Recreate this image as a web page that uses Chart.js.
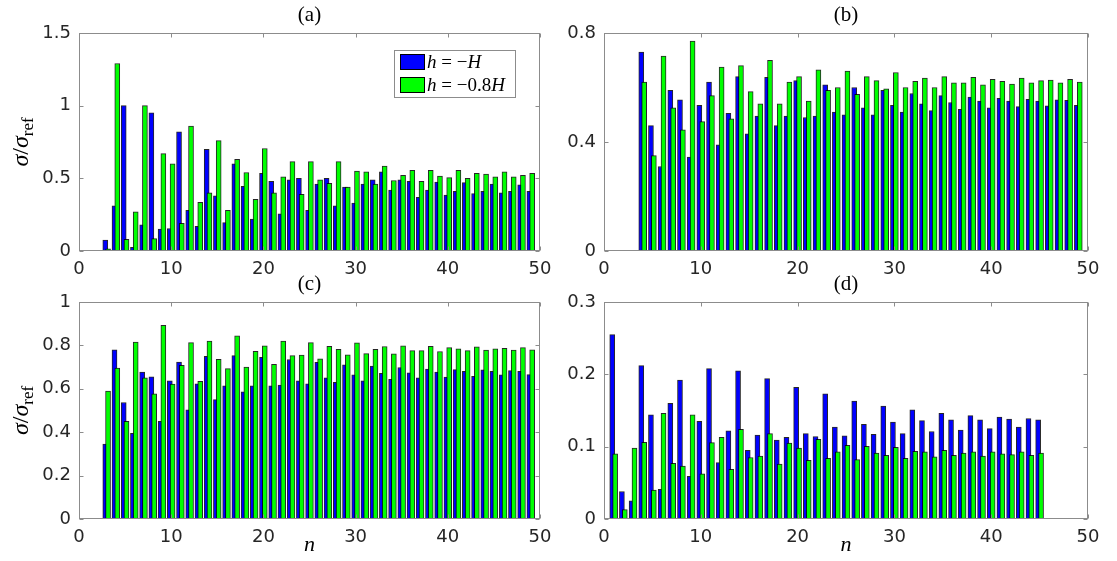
<!DOCTYPE html>
<html>
<head>
<meta charset="utf-8">
<script src="https://cdn.jsdelivr.net/npm/chart.js@4.4.0/dist/chart.umd.min.js"></script>
<style>
html,body{margin:0;padding:0;background:#fff;}
#wrap{position:relative;width:1117px;height:561px;overflow:hidden;background:#fff;}
#wrap canvas{position:absolute;left:0;top:0;}
</style>
</head>
<body>
<div id="wrap">
<canvas id="cA" width="1117" height="561"></canvas>
<canvas id="cB" width="1117" height="561"></canvas>
<canvas id="cC" width="1117" height="561"></canvas>
<canvas id="cD" width="1117" height="561"></canvas>
</div>
<script>
// ---------------- data ----------------
const seriesLabels = ['h = \u2212H', 'h = \u22120.8H'];
const xTicks = [0, 10, 20, 30, 40, 50];

const nA = [3,4,5,6,7,8,9,10,11,12,13,14,15,16,17,18,19,20,21,22,23,24,25,26,27,28,29,30,31,32,33,34,35,36,37,38,39,40,41,42,43,44,45,46,47,48,49];
const blueA = [0.075,0.31,1.0,0.025,0.18,0.95,0.15,0.155,0.82,0.28,0.17,0.70,0.38,0.195,0.60,0.445,0.22,0.535,0.48,0.255,0.49,0.50,0.28,0.46,0.50,0.31,0.44,0.33,0.46,0.49,0.545,0.42,0.49,0.48,0.37,0.42,0.475,0.385,0.41,0.47,0.395,0.41,0.46,0.40,0.41,0.455,0.41];
const greenA = [0.015,1.29,0.08,0.27,1.0,0.085,0.67,0.60,0.19,0.86,0.335,0.40,0.76,0.28,0.63,0.54,0.355,0.705,0.40,0.51,0.615,0.39,0.615,0.49,0.465,0.615,0.44,0.55,0.545,0.46,0.585,0.485,0.52,0.555,0.48,0.555,0.515,0.505,0.555,0.50,0.535,0.53,0.51,0.545,0.51,0.52,0.535];
const yTicksA = [0, 0.5, 1, 1.5];

const nB = [4,5,6,7,8,9,10,11,12,13,14,15,16,17,18,19,20,21,22,23,24,25,26,27,28,29,30,31,32,33,34,35,36,37,38,39,40,41,42,43,44,45,46,47,48,49];
const blueB = [0.73,0.46,0.31,0.59,0.555,0.345,0.535,0.62,0.39,0.505,0.64,0.43,0.495,0.637,0.46,0.495,0.625,0.49,0.495,0.61,0.51,0.50,0.60,0.525,0.50,0.59,0.535,0.51,0.578,0.54,0.515,0.57,0.545,0.52,0.565,0.55,0.525,0.56,0.55,0.53,0.557,0.55,0.533,0.555,0.553,0.535];
const greenB = [0.62,0.35,0.715,0.525,0.445,0.77,0.475,0.57,0.675,0.485,0.68,0.585,0.54,0.70,0.54,0.62,0.64,0.55,0.665,0.59,0.60,0.66,0.575,0.64,0.625,0.595,0.655,0.60,0.623,0.635,0.60,0.64,0.617,0.617,0.637,0.61,0.63,0.623,0.613,0.635,0.617,0.625,0.627,0.617,0.63,0.62];
const yTicksB = [0, 0.4, 0.8];

const nC = [3,4,5,6,7,8,9,10,11,12,13,14,15,16,17,18,19,20,21,22,23,24,25,26,27,28,29,30,31,32,33,34,35,36,37,38,39,40,41,42,43,44,45,46,47,48,49];
const blueC = [0.345,0.78,0.537,0.395,0.677,0.655,0.45,0.637,0.723,0.503,0.623,0.75,0.55,0.614,0.753,0.586,0.614,0.745,0.614,0.617,0.735,0.637,0.623,0.722,0.65,0.63,0.711,0.664,0.637,0.705,0.671,0.644,0.698,0.674,0.65,0.691,0.677,0.654,0.688,0.68,0.657,0.687,0.68,0.664,0.684,0.68,0.665];
const greenC = [0.59,0.695,0.45,0.815,0.65,0.577,0.893,0.622,0.708,0.813,0.634,0.82,0.736,0.693,0.844,0.70,0.773,0.798,0.713,0.82,0.753,0.755,0.813,0.738,0.796,0.782,0.756,0.812,0.762,0.782,0.795,0.761,0.798,0.776,0.776,0.796,0.772,0.79,0.784,0.776,0.793,0.779,0.784,0.787,0.779,0.79,0.78];
const yTicksC = [0, 0.2, 0.4, 0.6, 0.8, 1];

const nD = [1,2,3,4,5,6,7,8,9,10,11,12,13,14,15,16,17,18,19,20,21,22,23,24,25,26,27,28,29,30,31,32,33,34,35,36,37,38,39,40,41,42,43,44,45];
const blueD = [0.255,0.038,0.025,0.212,0.144,0.041,0.16,0.192,0.059,0.135,0.208,0.078,0.122,0.205,0.095,0.116,0.194,0.109,0.113,0.182,0.118,0.114,0.173,0.127,0.115,0.163,0.131,0.117,0.156,0.134,0.118,0.151,0.136,0.121,0.146,0.137,0.123,0.143,0.137,0.125,0.141,0.138,0.127,0.139,0.137];
const greenD = [0.09,0.013,0.098,0.106,0.040,0.146,0.077,0.073,0.144,0.0625,0.1056,0.113,0.0685,0.124,0.085,0.087,0.118,0.076,0.105,0.098,0.081,0.110,0.084,0.093,0.102,0.082,0.1005,0.091,0.088,0.099,0.084,0.0935,0.093,0.086,0.095,0.088,0.091,0.093,0.087,0.093,0.09,0.089,0.093,0.088,0.091];
const yTicksD = [0, 0.1, 0.2, 0.3];

// ---------------- style / layout ----------------
const W = 1117, H = 561;
const BLUE = '#0000ff', GREEN = '#00ff00';
const EDGE = 'rgba(0,0,0,0.85)';
const AXIS = '#8c8c8c';
const TXT = '#262626';
const SERIF = '"Liberation Serif", "DejaVu Serif", serif';
const GROUP_OFF = 0.15;   // half distance between the two bars of one group (x units)

Chart.defaults.font.family = '"DejaVu Sans", sans-serif';
Chart.defaults.font.size = 18;
Chart.defaults.color = TXT;

function drawSegs(ctx, segs, x, y, align) {
  let total = 0;
  segs.forEach(s => { ctx.font = s.font; s.w = ctx.measureText(s.t).width; total += s.w; });
  let cx = align === 'center' ? x - total / 2 : x;
  segs.forEach(s => {
    ctx.font = s.font;
    ctx.textAlign = 'left';
    ctx.textBaseline = 'alphabetic';
    ctx.fillText(s.t, cx, y + (s.dy || 0));
    cx += s.w;
  });
}

const decor = {
  id: 'decor',
  afterDraw(chart, args, o) {
    const ctx = chart.ctx;
    const a = chart.chartArea;
    const xs = chart.scales.x, ys = chart.scales.y;
    ctx.save();
    ctx.strokeStyle = AXIS;
    ctx.lineWidth = 1;
    const L = Math.round(a.left) + 0.5, R = Math.round(a.right) - 0.5;
    const T = Math.round(a.top) + 0.5, B = Math.round(a.bottom) - 0.5;
    ctx.strokeRect(L, T, R - L, B - T);
    ctx.beginPath();
    const tl = 4;
    xTicks.forEach(v => {
      const px = Math.round(xs.getPixelForValue(v)) + 0.5;
      ctx.moveTo(px, B); ctx.lineTo(px, B - tl);
      ctx.moveTo(px, T); ctx.lineTo(px, T + tl);
    });
    o.yTicks.forEach(v => {
      const py = Math.round(ys.getPixelForValue(v)) + 0.5;
      ctx.moveTo(L, py); ctx.lineTo(L + tl, py);
      ctx.moveTo(R, py); ctx.lineTo(R - tl, py);
    });
    ctx.stroke();
    ctx.fillStyle = '#000';
    const cx = (a.left + a.right) / 2;
    drawSegs(ctx, [{t: o.title, font: '21px ' + SERIF}], cx, a.top - 12, 'center');
    if (o.xlabel) {
      drawSegs(ctx, [{t: 'n', font: 'italic 22px ' + SERIF}], cx, 551, 'center');
    }
    if (o.ylabel) {
      ctx.save();
      ctx.translate(28, (a.top + a.bottom) / 2);
      ctx.rotate(-Math.PI / 2);
      drawSegs(ctx, [
        {t: '\u03c3', font: 'italic 24px ' + SERIF},
        {t: '/', font: '24px ' + SERIF},
        {t: '\u03c3', font: 'italic 24px ' + SERIF},
        {t: 'ref', font: '17px ' + SERIF, dy: 5}
      ], 0, 0, 'center');
      ctx.restore();
    }
    if (o.legend) {
      const bx = 394.5, by = 50.5, bw = 121, bh = 47;
      ctx.fillStyle = '#fff';
      ctx.fillRect(bx, by, bw, bh);
      ctx.strokeStyle = AXIS;
      ctx.strokeRect(bx, by, bw, bh);
      const rows = [
        {c: BLUE, y: 62, segs: [
          {t: 'h', font: 'italic 19px ' + SERIF}, {t: ' = ', font: '19px ' + SERIF},
          {t: '\u2212', font: '19px ' + SERIF}, {t: 'H', font: 'italic 19px ' + SERIF}]},
        {c: GREEN, y: 85, segs: [
          {t: 'h', font: 'italic 19px ' + SERIF}, {t: ' = ', font: '19px ' + SERIF},
          {t: '\u22120.8', font: '19px ' + SERIF}, {t: 'H', font: 'italic 19px ' + SERIF}]}
      ];
      rows.forEach(r => {
        ctx.fillStyle = r.c;
        ctx.fillRect(400.5, r.y - 7.5, 24, 15);
        ctx.strokeStyle = '#000';
        ctx.strokeRect(400.5, r.y - 7.5, 24, 15);
        ctx.fillStyle = '#000';
        drawSegs(ctx, r.segs, 427, r.y + 6, 'left');
      });
    }
    ctx.restore();
  }
};

function makePanel(id, rect, ns, blue, green, yTicks, extra) {
  const yMax = yTicks[yTicks.length - 1];
  const ds = (vals, off, color, order, label) => ({
    label,
    data: ns.map((n, i) => ({x: n + off, y: vals[i]})),
    backgroundColor: color,
    borderColor: EDGE,
    borderWidth: 1,
    borderSkipped: 'start',
    grouped: false,
    barThickness: 5,
    order
  });
  return new Chart(document.getElementById(id), {
    type: 'bar',
    data: {
      datasets: [
        ds(blue, -GROUP_OFF, BLUE, 1, seriesLabels[0]),
        ds(green, GROUP_OFF, GREEN, 0, seriesLabels[1])
      ]
    },
    options: {
      responsive: false,
      animation: false,
      devicePixelRatio: 1,
      layout: {padding: {left: 0, top: rect.t, right: W - rect.r, bottom: 0}},
      plugins: {
        legend: {display: false},
        tooltip: {enabled: false},
        decor: Object.assign({yTicks}, extra)
      },
      scales: {
        x: {
          type: 'linear', min: 0, max: 50, offset: false,
          grid: {display: false, drawTicks: false},
          border: {display: false},
          ticks: {stepSize: 10, padding: 8, maxRotation: 0, autoSkip: false, color: TXT,
                  callback: v => String(v)},
          afterFit: s => { s.height = H - rect.b; }
        },
        y: {
          type: 'linear', min: 0, max: yMax,
          grid: {display: false, drawTicks: false},
          border: {display: false},
          ticks: {stepSize: yTicks[1], padding: 8, color: TXT,
                  callback: v => String(+(+v).toFixed(3))},
          afterFit: s => { s.width = rect.l; }
        }
      }
    },
    plugins: [decor]
  });
}

makePanel('cA', {l: 79, t: 33, r: 540, b: 251}, nA, blueA, greenA, yTicksA,
          {title: '(a)', ylabel: true, legend: true});
makePanel('cB', {l: 604, t: 33, r: 1088, b: 251}, nB, blueB, greenB, yTicksB,
          {title: '(b)'});
makePanel('cC', {l: 79, t: 302, r: 540, b: 519}, nC, blueC, greenC, yTicksC,
          {title: '(c)', ylabel: true, xlabel: true});
makePanel('cD', {l: 604, t: 302, r: 1088, b: 519}, nD, blueD, greenD, yTicksD,
          {title: '(d)', xlabel: true});
</script>
</body>
</html>
